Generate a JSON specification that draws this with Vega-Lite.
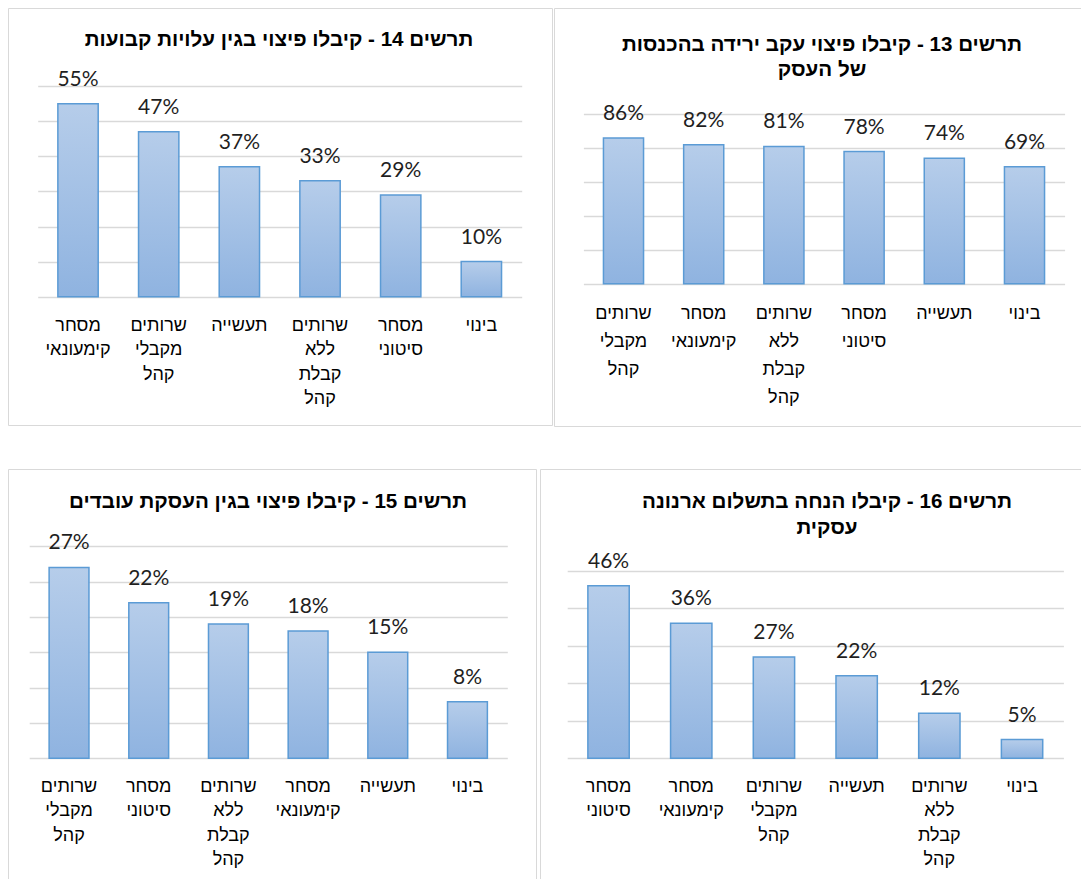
{
  "$schema": "https://vega.github.io/schema/vega-lite/v6.json",
  "padding": {"left": 7, "top": 7, "right": 0, "bottom": 0},
  "background": "white",
  "spacing": 41,
  "vconcat": [
    {
      "spacing": 0,
      "hconcat": [
        {
          "width": 544,
          "height": 417,
          "data": {"values": [
            {"cat": "מסחר|קימעונאי", "pct": 0.55},
            {"cat": "שרותים|מקבלי|קהל", "pct": 0.47},
            {"cat": "תעשייה", "pct": 0.37},
            {"cat": "שרותים|ללא|קבלת|קהל", "pct": 0.33},
            {"cat": "מסחר|סיטוני", "pct": 0.29},
            {"cat": "בינוי", "pct": 0.10}
          ]},
          "title": {"text": "תרשים 14 - קיבלו פיצוי בגין עלויות קבועות", "offset": -42.4, "baseline": "top", "dx": -1},
          "encoding": {
            "x": {"field": "cat", "type": "nominal", "sort": null,
              "scale": {"range": [29.7, 513.7], "paddingInner": 0.5, "paddingOuter": 0.25},
              "axis": {"offset": -128.3, "labelPadding": 33.5, "labelFontSize": 18, "labelLineHeight": 24.5}}
          },
          "layer": [
            {"mark": {"type": "bar", "fill": {"gradient": "linear", "x1": 0, "y1": 0, "x2": 0, "y2": 1, "stops": [{"offset": 0, "color": "#b6cdea"}, {"offset": 1, "color": "#8fb3e0"}]}, "stroke": "#5b9bd5", "strokeWidth": 1.5},
             "encoding": {
               "y": {"field": "pct", "type": "quantitative", "scale": {"domain": [-0.3655, 0.8225], "nice": false, "zero": false},
                 "axis": {"values": [0, 0.1, 0.2, 0.3, 0.4, 0.5, 0.6]}},
               "y2": {"datum": 0}}},
            {"mark": {"type": "text"},
             "encoding": {"y": {"field": "pct", "type": "quantitative"}, "text": {"field": "pct", "format": ".0%"}}}
          ]
        },
        {
          "width": 530,
          "height": 418,
          "data": {"values": [
            {"cat": "שרותים|מקבלי|קהל", "pct": 0.86},
            {"cat": "מסחר|קימעונאי", "pct": 0.82},
            {"cat": "שרותים|ללא|קבלת|קהל", "pct": 0.81},
            {"cat": "מסחר|סיטוני", "pct": 0.78},
            {"cat": "תעשייה", "pct": 0.74},
            {"cat": "בינוי", "pct": 0.69}
          ]},
          "title": {"text": ["תרשים 13 - קיבלו פיצוי עקב ירידה בהכנסות", "של העסק"], "offset": -73.1, "baseline": "top", "lineHeight": 25.7, "dx": 3},
          "encoding": {
            "x": {"field": "cat", "type": "nominal", "sort": null,
              "scale": {"range": [29.4, 510.6], "paddingInner": 0.5, "paddingOuter": 0.25},
              "axis": {"offset": -142.3, "labelPadding": 35, "labelFontSize": 18, "labelLineHeight": 28}}
          },
          "layer": [
            {"mark": {"type": "bar", "fill": {"gradient": "linear", "x1": 0, "y1": 0, "x2": 0, "y2": 1, "stops": [{"offset": 0, "color": "#b6cdea"}, {"offset": 1, "color": "#8fb3e0"}]}, "stroke": "#5b9bd5", "strokeWidth": 1.5},
             "encoding": {
               "y": {"field": "pct", "type": "quantitative", "scale": {"domain": [-0.84, 1.6275], "nice": false, "zero": false},
                 "axis": {"values": [0, 0.2, 0.4, 0.6, 0.8, 1.0]}},
               "y2": {"datum": 0}}},
            {"mark": {"type": "text"},
             "encoding": {"y": {"field": "pct", "type": "quantitative"}, "text": {"field": "pct", "format": ".0%"}}}
          ]
        }
      ]
    },
    {
      "spacing": 2,
      "hconcat": [
        {
          "width": 528,
          "height": 413,
          "data": {"values": [
            {"cat": "שרותים|מקבלי|קהל", "pct": 0.27},
            {"cat": "מסחר|סיטוני", "pct": 0.22},
            {"cat": "שרותים|ללא|קבלת|קהל", "pct": 0.19},
            {"cat": "מסחר|קימעונאי", "pct": 0.18},
            {"cat": "תעשייה", "pct": 0.15},
            {"cat": "בינוי", "pct": 0.08}
          ]},
          "title": {"text": "תרשים 15 - קיבלו פיצוי בגין העסקת עובדים", "offset": -43.4, "baseline": "top", "dx": -4},
          "encoding": {
            "x": {"field": "cat", "type": "nominal", "sort": null,
              "scale": {"range": [21.2, 499.3], "paddingInner": 0.5, "paddingOuter": 0.25},
              "axis": {"offset": -123.7, "labelPadding": 33, "labelFontSize": 18, "labelLineHeight": 24.5}}
          },
          "layer": [
            {"mark": {"type": "bar", "fill": {"gradient": "linear", "x1": 0, "y1": 0, "x2": 0, "y2": 1, "stops": [{"offset": 0, "color": "#b6cdea"}, {"offset": 1, "color": "#8fb3e0"}]}, "stroke": "#5b9bd5", "strokeWidth": 1.5},
             "encoding": {
               "y": {"field": "pct", "type": "quantitative", "scale": {"domain": [-0.1751, 0.4094], "nice": false, "zero": false},
                 "axis": {"values": [0, 0.05, 0.1, 0.15, 0.2, 0.25, 0.3]}},
               "y2": {"datum": 0}}},
            {"mark": {"type": "text"},
             "encoding": {"y": {"field": "pct", "type": "quantitative"}, "text": {"field": "pct", "format": ".0%"}}}
          ]
        },
        {
          "width": 544,
          "height": 413,
          "data": {"values": [
            {"cat": "מסחר|סיטוני", "pct": 0.46},
            {"cat": "מסחר|קימעונאי", "pct": 0.36},
            {"cat": "שרותים|מקבלי|קהל", "pct": 0.27},
            {"cat": "תעשייה", "pct": 0.22},
            {"cat": "שרותים|ללא|קבלת|קהל", "pct": 0.12},
            {"cat": "בינוי", "pct": 0.05}
          ]},
          "title": {"text": ["תרשים 16 - קיבלו הנחה בתשלום ארנונה", "עסקית"], "offset": -69.4, "baseline": "top", "lineHeight": 26, "dx": 15},
          "encoding": {
            "x": {"field": "cat", "type": "nominal", "sort": null,
              "scale": {"range": [27.2, 523.4], "paddingInner": 0.5, "paddingOuter": 0.25},
              "axis": {"offset": -123.7, "labelPadding": 33, "labelFontSize": 18, "labelLineHeight": 24.5}}
          },
          "layer": [
            {"mark": {"type": "bar", "fill": {"gradient": "linear", "x1": 0, "y1": 0, "x2": 0, "y2": 1, "stops": [{"offset": 0, "color": "#b6cdea"}, {"offset": 1, "color": "#8fb3e0"}]}, "stroke": "#5b9bd5", "strokeWidth": 1.5},
             "encoding": {
               "y": {"field": "pct", "type": "quantitative", "scale": {"domain": [-0.3296, 0.7708], "nice": false, "zero": false},
                 "axis": {"values": [0, 0.1, 0.2, 0.3, 0.4, 0.5]}},
               "y2": {"datum": 0}}},
            {"mark": {"type": "text"},
             "encoding": {"y": {"field": "pct", "type": "quantitative"}, "text": {"field": "pct", "format": ".0%"}}}
          ]
        }
      ]
    }
  ],
  "config": {
    "view": {"stroke": "#d9d9d9", "strokeWidth": 1},
    "title": {"font": "Liberation Sans", "fontSize": 20.6, "fontWeight": "bold", "color": "#000000", "anchor": "middle", "frame": "group"},
    "text": {"font": "Lato", "fontSize": 21, "color": "#1f1f1f", "baseline": "alphabetic", "dy": -18, "align": "center"},
    "axisX": {"title": null, "domain": false, "ticks": false, "tickSize": 0, "grid": false, "labelAngle": 0, "labelFont": "Liberation Sans", "labelColor": "#000000", "labelBaseline": "alphabetic", "labelLimit": 300, "labelOverlap": false, "labelExpr": "split(datum.label, '|')"},
    "axisY": {"title": null, "domain": false, "ticks": false, "labels": false, "grid": true, "gridColor": "#d9d9d9", "gridWidth": 1.3}
  }
}
